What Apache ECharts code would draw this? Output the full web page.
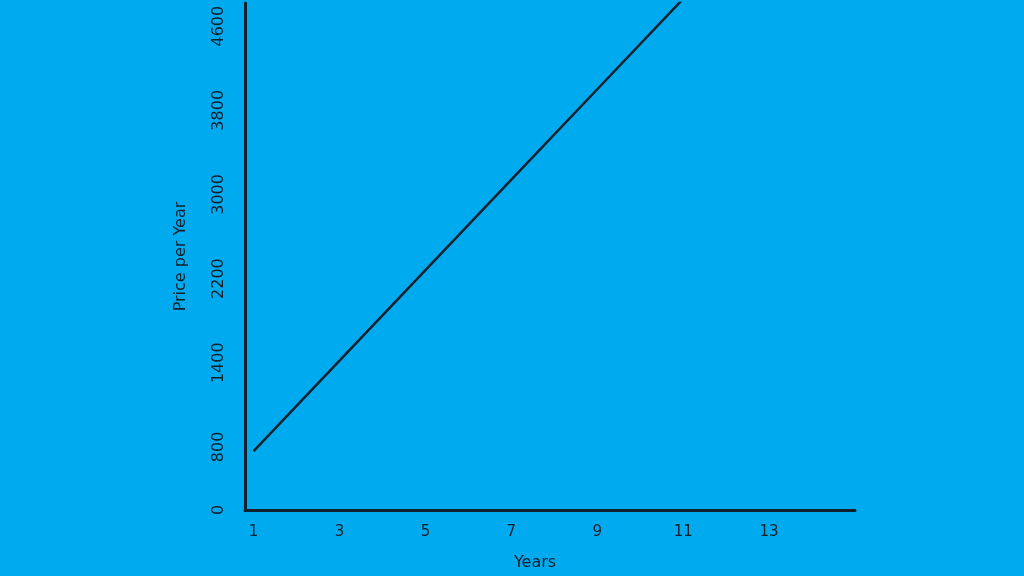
<!DOCTYPE html>
<html lang="en">
<head>
    <meta charset="UTF-8">
    <title>Price per Year</title>
    <script src="https://cdn.jsdelivr.net/npm/echarts@6/dist/echarts.min.js"></script>
    <style>
        html, body { margin: 0; padding: 0; background: #00aaee; }
        #container { width: 1024px; height: 576px; }
    </style>
</head>
<body>
<div id="container"></div>
<script>
    // data
    var years = [1, 3, 5, 7, 9, 11];
    var prices = [560, 1420, 2280, 3140, 4000, 4860];

    // tick labels as drawn (the "800" sits lower than its value)
    var xTickValues = [1, 3, 5, 7, 9, 11, 13];
    var yTickValues = [0, 600, 1400, 2200, 3000, 3800, 4600];
    var yTickLabels = ['0', '800', '1400', '2200', '3000', '3800', '4600'];

    var ink = '#10202c';
    var font = '"DejaVu Sans", "Noto Sans", sans-serif';

    var chart = echarts.init(document.getElementById('container'));

    var option = {
        backgroundColor: '#00aaee',
        animation: false,
        grid: { left: 245, right: 169, top: 3, bottom: 57 },
        xAxis: {
            type: 'value',
            min: 0.8,
            max: 15,
            name: 'Years',
            nameLocation: 'middle',
            nameGap: 45,
            nameTextStyle: { color: ink, fontSize: 16, fontFamily: font, padding: [0, 30, 0, 0] },
            axisLine: { lineStyle: { color: ink, width: 3 } },
            axisTick: { show: false },
            splitLine: { show: false },
            axisLabel: {
                customValues: xTickValues,
                color: ink,
                fontSize: 15,
                fontFamily: font,
                margin: 15
            }
        },
        yAxis: {
            type: 'value',
            min: 0,
            max: 4820,
            name: 'Price per Year',
            nameLocation: 'middle',
            nameGap: 56,
            nameTextStyle: { color: ink, fontSize: 16, fontFamily: font },
            axisLine: { show: true, lineStyle: { color: ink, width: 3 } },
            axisTick: { show: false },
            splitLine: { show: false },
            axisLabel: {
                customValues: yTickValues,
                formatter: function (v) {
                    var i = yTickValues.indexOf(v);
                    return i >= 0 ? yTickLabels[i] : '';
                },
                rotate: 90,
                color: ink,
                fontSize: 16,
                fontFamily: font,
                margin: 18
            }
        },
        series: [{
            type: 'line',
            data: years.map(function (y, i) { return [y, prices[i]]; }),
            symbol: 'none',
            clip: true,
            lineStyle: { color: ink, width: 2.5 }
        }]
    };

    chart.setOption(option);
</script>
</body>
</html>
